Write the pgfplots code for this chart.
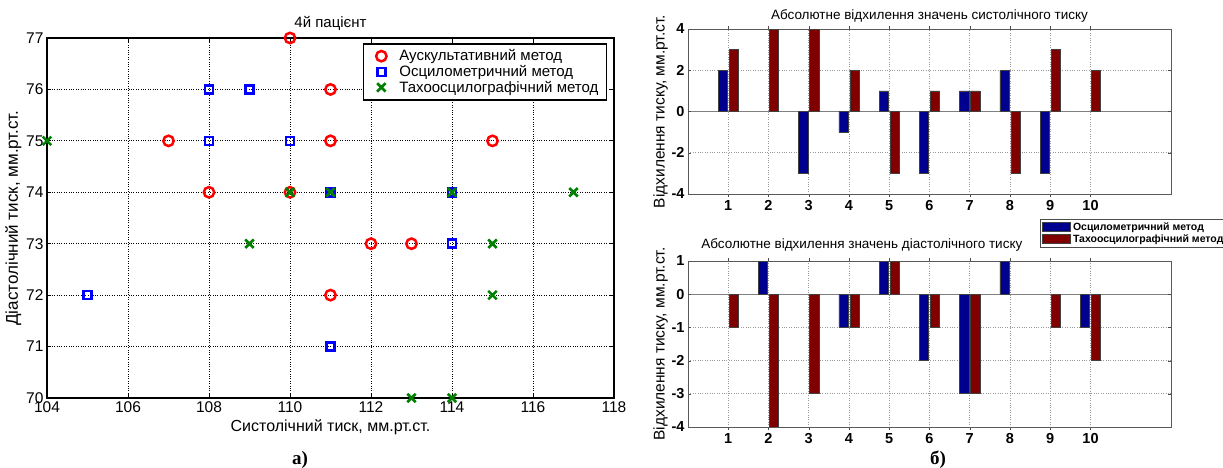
\documentclass[border=0pt]{standalone}
\usepackage{pgfplots}
\pgfplotsset{compat=1.18}
\usepackage{fontspec}
\setmainfont{Liberation Sans}
\newfontfamily\serifbold{Liberation Serif}

\definecolor{mred}{rgb}{1,0,0}
\definecolor{mblue}{rgb}{0,0,1}
\definecolor{mgreen}{rgb}{0,0.5,0}
\definecolor{barblue}{rgb}{0,0,0.56}
\definecolor{barred}{rgb}{0.5,0,0}

\pgfplotsset{
  barax/.style={
    scale only axis,
    width=483pt,
    xmin=0, xmax=12,
    xtick={1,...,10},
    grid=major,
    major grid style={dotted, gray!80, line width=0.6pt},
    axis line style={gray!70!black, line width=0.8pt},
    tick align=inside,
    major tick length=3pt,
    tick style={gray!60!black},
    /pgf/number format/assume math mode=true,
    ticklabel style={font=\bfseries\fontsize{14.5}{16}\selectfont},
    ylabel style={font=\fontsize{15.5}{17}\selectfont, yshift=-3pt},
    title style={font=\fontsize{13.5}{15}\selectfont},
    ylabel={Відхилення тиску, мм.рт.ст.},
    ybar,
    bar width=0.23,
    extra y ticks={0},
    extra y tick labels={},
    extra y tick style={grid=major, major grid style={solid, gray, line width=1pt}},
  },
  oscbar/.style={fill=barblue, draw=black!75, line width=0.6pt, bar shift=-0.135},
  tachobar/.style={fill=barred, draw=black!75, line width=0.6pt, bar shift=0.135},
}

\begin{document}
\begin{tikzpicture}
\useasboundingbox (0pt,0pt) rectangle (1223pt,468pt);

% а) scatter
\begin{axis}[
  at={(47pt,70pt)}, anchor=south west,
  scale only axis,
  width=567pt, height=360pt,
  xmin=104, xmax=118, ymin=70, ymax=77,
  xtick={104,106,...,118},
  ytick={70,...,77},
  grid=major,
  major grid style={dotted, black, line width=0.9pt},
  axis line style={black, line width=1.8pt},
  tick align=inside,
  major tick length=4pt,
  tick style={black, line width=0.8pt},
  clip=false,
  /pgf/number format/assume math mode=true,
  /pgf/number format/1000 sep={},
  ticklabel style={font=\fontsize{15.5}{17}\selectfont},
  title={4й пацієнт},
  title style={font=\fontsize{15}{17}\selectfont, yshift=-2pt},
  xlabel={Систолічний тиск, мм.рт.ст.},
  ylabel={Діастолічний тиск, мм.рт.ст.},
  xlabel style={font=\fontsize{16}{18}\selectfont},
  ylabel style={font=\fontsize{17}{19}\selectfont, yshift=-2pt},
  legend cell align=left,
  legend style={at={(0.988,0.986)}, anchor=north east, draw=black,
    line width=1.6pt, font=\fontsize{15}{17}\selectfont,
    row sep=-1pt, inner xsep=6pt, inner ysep=4pt},
  legend image code/.code={%
    \path[draw=none, fill=none] (0pt,0pt) -- (28pt,0pt);
    \draw[#1, only marks] plot coordinates {(12pt,0pt)};},
]
\addplot[only marks, mark=o, mark size=5.2pt, draw=mred, line width=2.5pt] coordinates {
  (110,77) (111,76) (107,75) (111,75) (115,75)
  (108,74) (110,74) (112,73) (113,73) (111,72)};
\addplot[only marks, mark=square, mark size=4pt, draw=mblue, line width=2.5pt] coordinates {
  (108,76) (109,76) (108,75) (110,75) (111,74)
  (114,74) (114,73) (105,72) (111,71)};
\addplot[only marks, mark=x, mark size=6pt, draw=mgreen, line width=2.6pt] coordinates {
  (104,75) (110,74) (111,74) (114,74) (117,74)
  (109,73) (115,73) (115,72) (113,70) (114,70)};
\legend{Аускультативний метод, Осцилометричний метод, Тахоосцилографічний метод}
\end{axis}

% б) systolic deviations
\begin{axis}[
  barax,
  at={(688pt,274pt)}, anchor=south west,
  height=165pt,
  ymin=-4, ymax=4,
  ytick={-4,-2,...,4},
  title={Абсолютне відхилення значень систолічного тиску},
  title style={yshift=-3pt},
]
\addplot[oscbar] coordinates {(1,2) (3,-3) (4,-1) (5,1) (6,-3) (7,1) (8,2) (9,-3)};
\addplot[tachobar] coordinates {(1,3) (2,4) (3,4) (4,2) (5,-3) (6,1) (7,1) (8,-3) (9,3) (10,2)};
\end{axis}

% б) diastolic deviations
\begin{axis}[
  barax,
  at={(688pt,41pt)}, anchor=south west,
  height=166pt,
  ymin=-4, ymax=1,
  ytick={-4,...,1},
  title={Абсолютне відхилення значень діастолічного тиску},
  title style={at={(0.36,1)}},
  legend cell align=left,
  legend style={at={(0.729,1.253)}, anchor=north west, draw=black!70,
    line width=0.6pt, font=\bfseries\fontsize{10.5}{11.5}\selectfont,
    row sep=-1pt, inner xsep=2pt, inner ysep=1pt},
  legend image code/.code={\draw[#1] (0pt,-4.5pt) rectangle (28pt,4.5pt);},
]
\addplot[oscbar] coordinates {(2,1) (4,-1) (5,1) (6,-2) (7,-3) (8,1) (10,-1)};
\addplot[tachobar] coordinates {(1,-1) (2,-4) (3,-3) (4,-1) (5,1) (6,-1) (7,-3) (9,-1) (10,-2)};
\legend{Осцилометричний метод, Тахоосцилографічний метод}
\end{axis}

\node[font=\serifbold\bfseries\fontsize{19}{21}\selectfont] at (300pt,8pt) {а)};
\node[font=\serifbold\bfseries\fontsize{19}{21}\selectfont] at (938pt,8pt) {б)};
\end{tikzpicture}
\end{document}
